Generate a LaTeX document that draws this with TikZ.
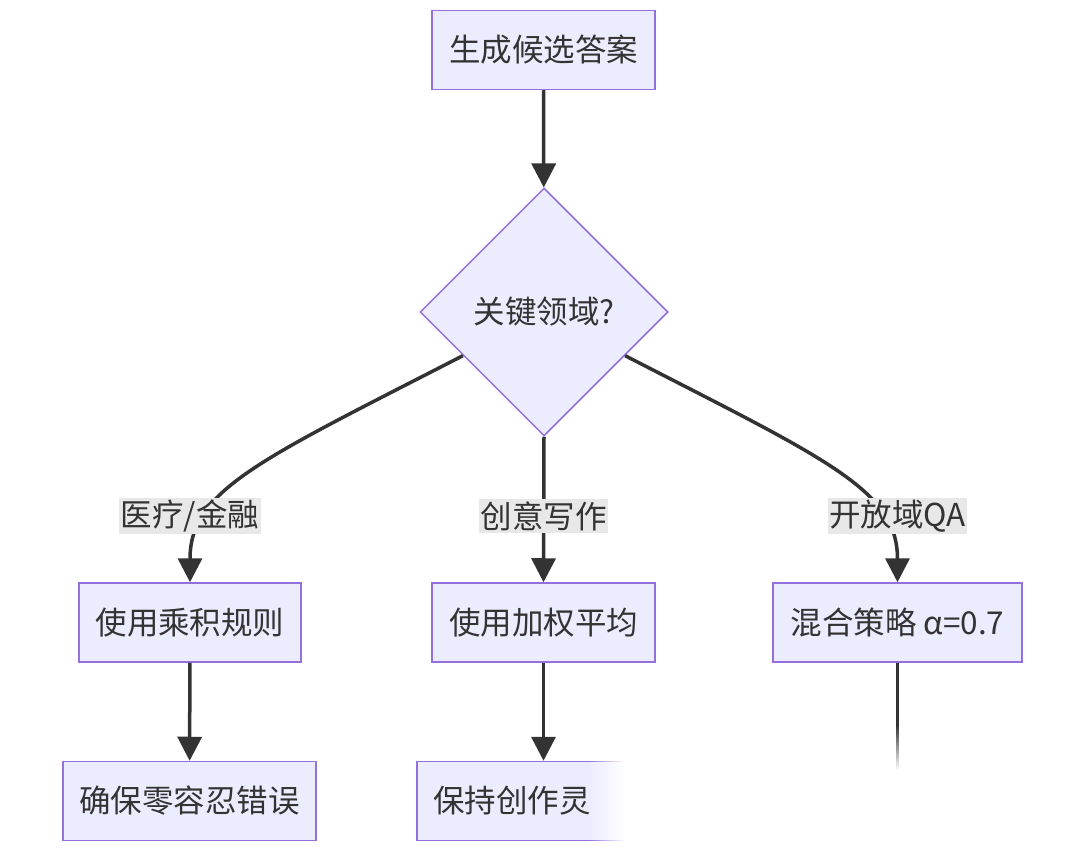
\documentclass[tikz,border=0pt]{standalone}
\usepackage{fontspec}
\setmainfont{Noto Sans CJK SC}
\usetikzlibrary{shapes.geometric,arrows.meta,calc,fadings}
\definecolor{boxfill}{HTML}{ECECFF}
\definecolor{boxline}{HTML}{9370DB}
\definecolor{pfeil}{HTML}{333333}
\definecolor{labelbg}{HTML}{E8E8E8}

\begin{document}
\begin{tikzpicture}[x=1pt,y=-1pt,
    box/.style={draw=boxline, fill=boxfill, line width=1.5pt, minimum height=79pt, inner sep=0pt,
      text=pfeil, font=\fontsize{31.5}{36}\selectfont},
    raute/.style={diamond, aspect=1, draw=boxline, fill=boxfill, line width=1.5pt,
      minimum width=248pt, minimum height=248pt, inner sep=0pt, text=pfeil, font=\fontsize{31.5}{36}\selectfont},
    kante/.style={draw=pfeil, line width=3.5pt, -{Triangle[length=24pt,width=24pt]}},
    beschr/.style={fill=labelbg, inner xsep=1.5pt, inner ysep=2pt, text=pfeil, font=\fontsize{31.5}{36}\selectfont}]
    \fill[white] (0,0) rectangle (1072,856);
    \useasboundingbox (0,0) rectangle (1072,856);
    % oben:
    \node[box, minimum width=223pt] (start) at (543.5,50) {生成候选答案};
    \node[raute] (frage) at (544,312) {关键领域?};
    % mittlere Reihe:
    \node[box, minimum width=222pt] (lm) at (190,622.5) {使用乘积规则};
    \node[box, minimum width=223pt] (mm) at (543.5,622.5) {使用加权平均};
    \node[box, minimum width=249pt] (rm) at (897.5,622.5) {混合策略 α=0.7};
    % untere Reihe:
    \node[box, minimum width=253pt] (lu) at (189.5,801) {确保零容忍错误};
    \node[box, minimum width=253pt, text width=221pt, align=left] (mu) at (543.5,801) {保持创作灵};
    \coordinate (rende) at (897.5,790);
    % Pfeile:
    \draw[kante] (start) -- (frage);
    \draw[kante] ($(frage.west)!0.35!(frage.south)$) .. controls (260,460) and (190,490) .. (lm.north);
    \draw[kante] (frage.south) -- (mm.north);
    \draw[kante] ($(frage.east)!0.35!(frage.south)$) .. controls (828,460) and (897.5,490) .. (rm.north);
    \draw[kante] (lm) -- (lu);
    \draw[kante] (mm) -- (mu);
    \draw[draw=pfeil, line width=3.5pt] (rm) -- (rende);
    % Beschriftungen:
    \node[beschr] (l1) at (190,516) {医疗/金融};
    \node[beschr] (l2) at (543.5,516) {创意写作};
    \node[beschr] (l3) at (897.5,516) {开放域QA};
    % ausgeblendete Ecke unten rechts:
    \fill[white, path fading=west] (588,742) rectangle (625,856);
    \fill[white] (625,770) rectangle (1072,856);
    \fill[white] (625,742) rectangle (860,770);
    \fill[white, path fading=north] (860,725) rectangle (940,770);
\end{tikzpicture}
\end{document}
